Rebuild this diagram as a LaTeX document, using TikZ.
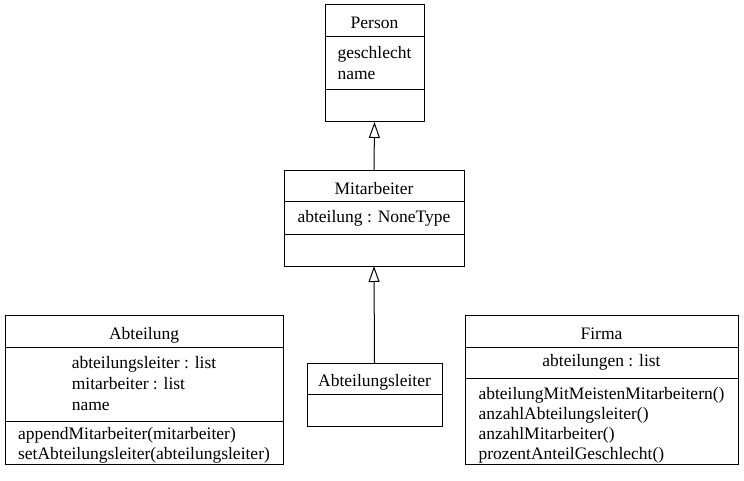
\documentclass[tikz,border=0pt]{standalone}
\usepackage{fontspec}
\setmainfont{Liberation Serif}
\usetikzlibrary{arrows.meta,positioning}

\tikzset{
  umlpart/.style={draw, line width=1pt, align=left, inner xsep=2pt, inner ysep=0pt,
    outer sep=0pt, font=\fontsize{17.5}{21}\selectfont},
  umlhead/.style={umlpart, text height=16pt, text depth=0pt},
  umlops/.style={umlpart, font=\fontsize{17.5}{20}\selectfont},
  inherit/.style={line width=1pt, -{Triangle[open, length=16pt, width=11pt]}},
}

\begin{document}
\begin{tikzpicture}[x=1pt, y=1pt]
    \useasboundingbox (0,0) rectangle (744,480);
    %%Person
    \node[umlhead, anchor=north west, minimum width=99, minimum height=32] (person) at (325,475) {Person};
    \node[umlpart, below=0pt of person, minimum width=99, minimum height=53] (person-attr) {geschlecht\\name};
    \node[umlpart, below=0pt of person-attr, minimum width=99, minimum height=32] (person-ops) {};
    %%Mitarbeiter
    \node[umlhead, anchor=north west, minimum width=180, minimum height=31] (mit) at (284,309) {Mitarbeiter};
    \node[umlpart, below=0pt of mit, minimum width=180, minimum height=32] (mit-attr) {abteilung : NoneType};
    \node[umlpart, below=0pt of mit-attr, minimum width=180, minimum height=32] (mit-ops) {};
    %%Abteilungsleiter
    \node[umlhead, anchor=north west, minimum width=135, minimum height=31] (leiter) at (307,117) {Abteilungsleiter};
    \node[umlpart, below=0pt of leiter, minimum width=135, minimum height=32] (leiter-ops) {};
    %%Abteilung
    \node[umlhead, anchor=north west, minimum width=278, minimum height=32] (abt) at (5,165) {Abteilung};
    \node[umlpart, below=0pt of abt, minimum width=278, minimum height=74] (abt-attr)
        {abteilungsleiter : list\\mitarbeiter : list\\name};
    \node[umlops, below=0pt of abt-attr, minimum width=278, minimum height=43,
        text height=38pt, text depth=5pt] (abt-ops)
        {appendMitarbeiter(mitarbeiter)\\setAbteilungsleiter(abteilungsleiter)};
    %%Firma
    \node[umlhead, anchor=north west, minimum width=273, minimum height=32] (firma) at (465,165) {Firma};
    \node[umlpart, below=0pt of firma, minimum width=273, minimum height=31] (firma-attr) {abteilungen : list};
    \node[umlops, below=0pt of firma-attr, minimum width=273, minimum height=86,
        text height=81pt, text depth=5pt] (firma-ops)
        {abteilungMitMeistenMitarbeitern()\\anzahlAbteilungsleiter()\\anzahlMitarbeiter()\\prozentAnteilGeschlecht()};
    %%Vererbung
    \draw[inherit] (mit.north) -- (person-ops.south);
    \draw[inherit] (leiter.north) -- (mit-ops.south);
\end{tikzpicture}
\end{document}
